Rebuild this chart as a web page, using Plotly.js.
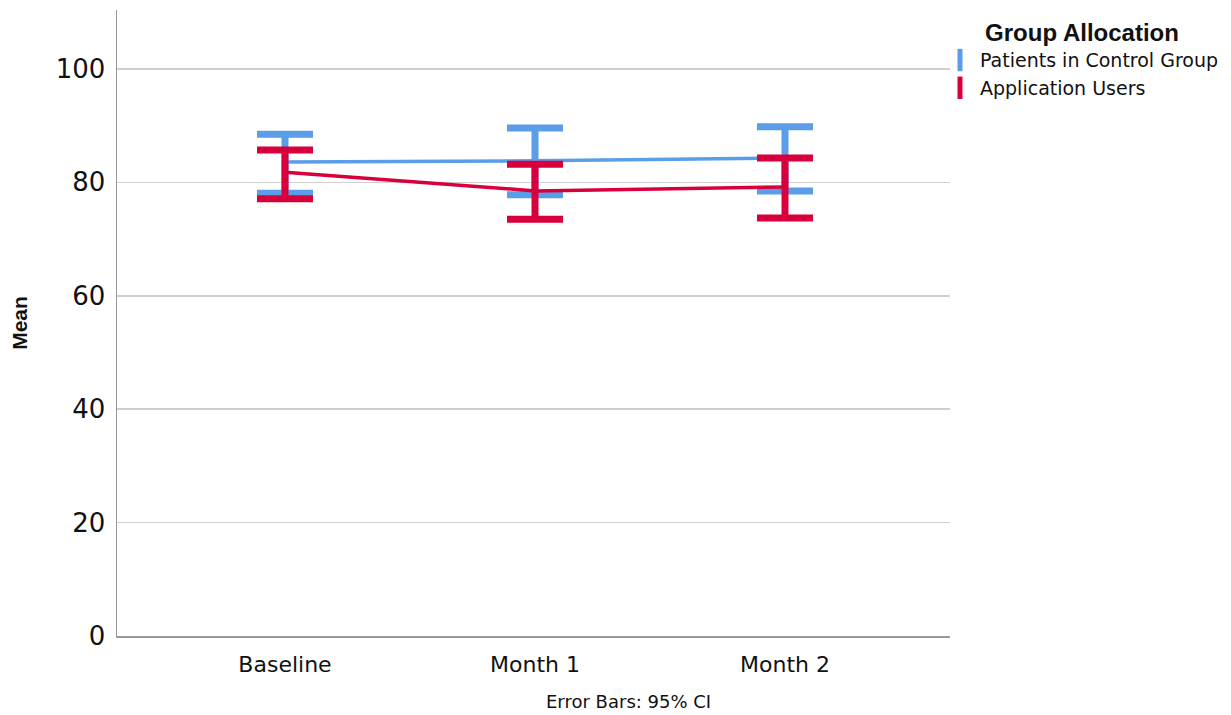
<!DOCTYPE html>
<html>
<head>
<meta charset="utf-8">
<script src="https://cdn.plot.ly/plotly-3.0.1.min.js"></script>
<style>html,body{margin:0;padding:0;background:#fff;}#chart{width:1231px;height:715px;}</style>
</head>
<body>
<div id="chart"></div>
<script>
const categories = ["Baseline", "Month 1", "Month 2"];
const seriesNames = ["Patients in Control Group", "Application Users"];
const controlMean = [83.6, 83.8, 84.3];
const controlUpper = [88.5, 89.6, 89.8];
const controlLower = [78.1, 77.8, 78.5];
const appMean = [81.8, 78.5, 79.2];
const appUpper = [85.7, 83.2, 84.3];
const appLower = [77.1, 73.5, 73.7];
const yTicks = [0, 20, 40, 60, 80, 100];

const blue = "#5a9de8";
const red = "#d7003c";
const bodyFont = "DejaVu Sans, Verdana, sans-serif";
const boldFont = "Liberation Sans, Arial, sans-serif";

function diff(a, b) { return a.map((v, i) => v - b[i]); }

function mainTrace(name, mean, upper, lower, color) {
  return {
    type: "scatter", mode: "lines", x: categories, y: mean, name: name,
    showlegend: false, hoverinfo: "x+y",
    line: { color: color, width: 3.5 },
    error_y: {
      type: "data", symmetric: false,
      array: diff(upper, mean), arrayminus: diff(mean, lower),
      color: color, thickness: 7, width: 28
    }
  };
}
function legendTrace(name, color) {
  return {
    type: "scatter", mode: "markers", x: [null], y: [null], name: name,
    marker: { symbol: "line-ns", size: 16, color: color, line: { color: color, width: 6 } }
  };
}

const data = [
  mainTrace(seriesNames[0], controlMean, controlUpper, controlLower, blue),
  mainTrace(seriesNames[1], appMean, appUpper, appLower, red),
  legendTrace(seriesNames[0], blue),
  legendTrace(seriesNames[1], red)
];

const layout = {
  width: 1231, height: 715,
  margin: { l: 117, r: 281, t: 10, b: 79, autoexpand: false },
  paper_bgcolor: "#fff", plot_bgcolor: "#fff",
  font: { family: bodyFont, color: "#111" },
  xaxis: {
    type: "category", range: [-0.672, 2.66],
    showgrid: false, zeroline: false,
    showline: true, linecolor: "#999", linewidth: 1.5,
    ticks: "", tickfont: { size: 22, color: "#111" }, ticklabelstandoff: 8
  },
  yaxis: {
    range: [0, 110.4], tickvals: yTicks, ticktext: yTicks.map(String),
    showgrid: true, gridcolor: "#cfcfcf", gridwidth: 1.5, zeroline: false,
    showline: true, linecolor: "#999", linewidth: 1.5,
    ticks: "", tickfont: { size: 26, color: "#111" }, ticklabelstandoff: 5,
    title: { text: "<b>Mean</b>", font: { family: boldFont, size: 21, color: "#111" }, standoff: 22 }
  },
  legend: {
    x: 0.988, xanchor: "left", y: 1.0, yanchor: "top",
    title: { text: "<b>Group Allocation</b>", font: { family: boldFont, size: 24, color: "#111" }, side: "top center" },
    font: { size: 19, color: "#111" }, itemwidth: 30, tracegroupgap: 0,
    bgcolor: "rgba(0,0,0,0)"
  },
  annotations: [{
    xref: "paper", yref: "paper", x: 0.6145, y: -0.105, xanchor: "center", yanchor: "middle",
    text: "Error Bars: 95% CI", showarrow: false, font: { size: 18, color: "#111" }
  }]
};

Plotly.newPlot("chart", data, layout, { displayModeBar: false, staticPlot: true });
</script>
</body>
</html>
